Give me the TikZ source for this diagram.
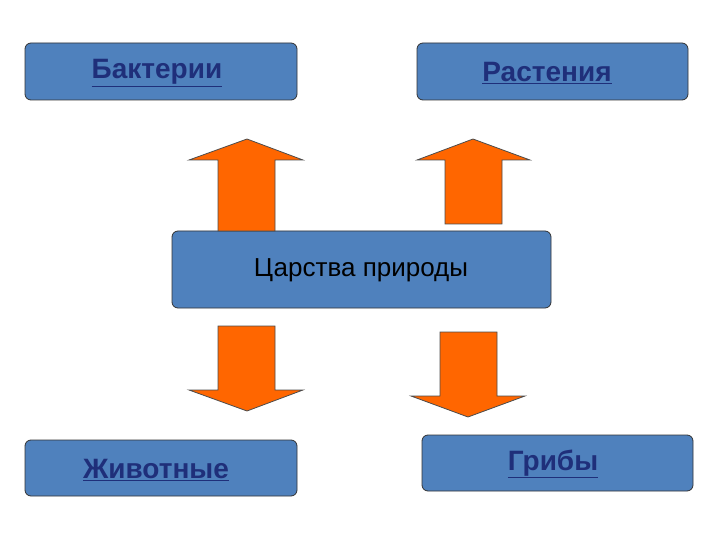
\documentclass[tikz,border=0pt]{standalone}
\usepackage{fontspec}
\setmainfont{Liberation Sans}
\definecolor{boxblue}{HTML}{4F81BD}
\definecolor{arrorange}{HTML}{FF6600}
\definecolor{linkblue}{HTML}{1F2F7A}
\tikzset{
  kbox/.style={draw=black!80, line width=0.8pt, fill=boxblue, rounded corners=6pt},
  klabel/.style={font=\fontsize{28}{32}\selectfont\bfseries, text=linkblue},
  bigarrow/.style={draw=black!70, line width=0.8pt, fill=arrorange}
}
\begin{document}
\begin{tikzpicture}[x=1pt,y=-1pt]
\useasboundingbox (0,0) rectangle (720,540);
\draw[kbox] (25,43) rectangle (297,100);
\node[klabel] (b) at (157,73) {\underline{Бактерии}};
\draw[kbox] (417,43) rectangle (688,100);
\node[klabel] (r) at (547,73) {\underline{Растения}};
\draw[kbox] (172,231) rectangle (551,308);
\node[font=\fontsize{26}{30}\selectfont] (c) at (361,270) {Царства природы};
\draw[kbox] (25,440) rectangle (297,496);
\node[klabel] (z) at (156,470) {\underline{Животные}};
\draw[kbox] (422,435) rectangle (693,491);
\node[klabel] (g) at (553,464) {\underline{Грибы}};
% arrows
\draw[bigarrow] (218,231) -- (218,160) -- (189,160) -- (247,139) -- (303,160) -- (275,160) -- (275,231) -- cycle;
\draw[bigarrow] (445,224) -- (445,160) -- (417,160) -- (473,139) -- (530,160) -- (502,160) -- (502,224) -- cycle;
\draw[bigarrow] (218,326) -- (218,390) -- (189,390) -- (247,411) -- (303,390) -- (275,390) -- (275,326) -- cycle;
\draw[bigarrow] (440,332) -- (440,396) -- (411,396) -- (468,417) -- (525,396) -- (497,396) -- (497,332) -- cycle;
\end{tikzpicture}
\end{document}
